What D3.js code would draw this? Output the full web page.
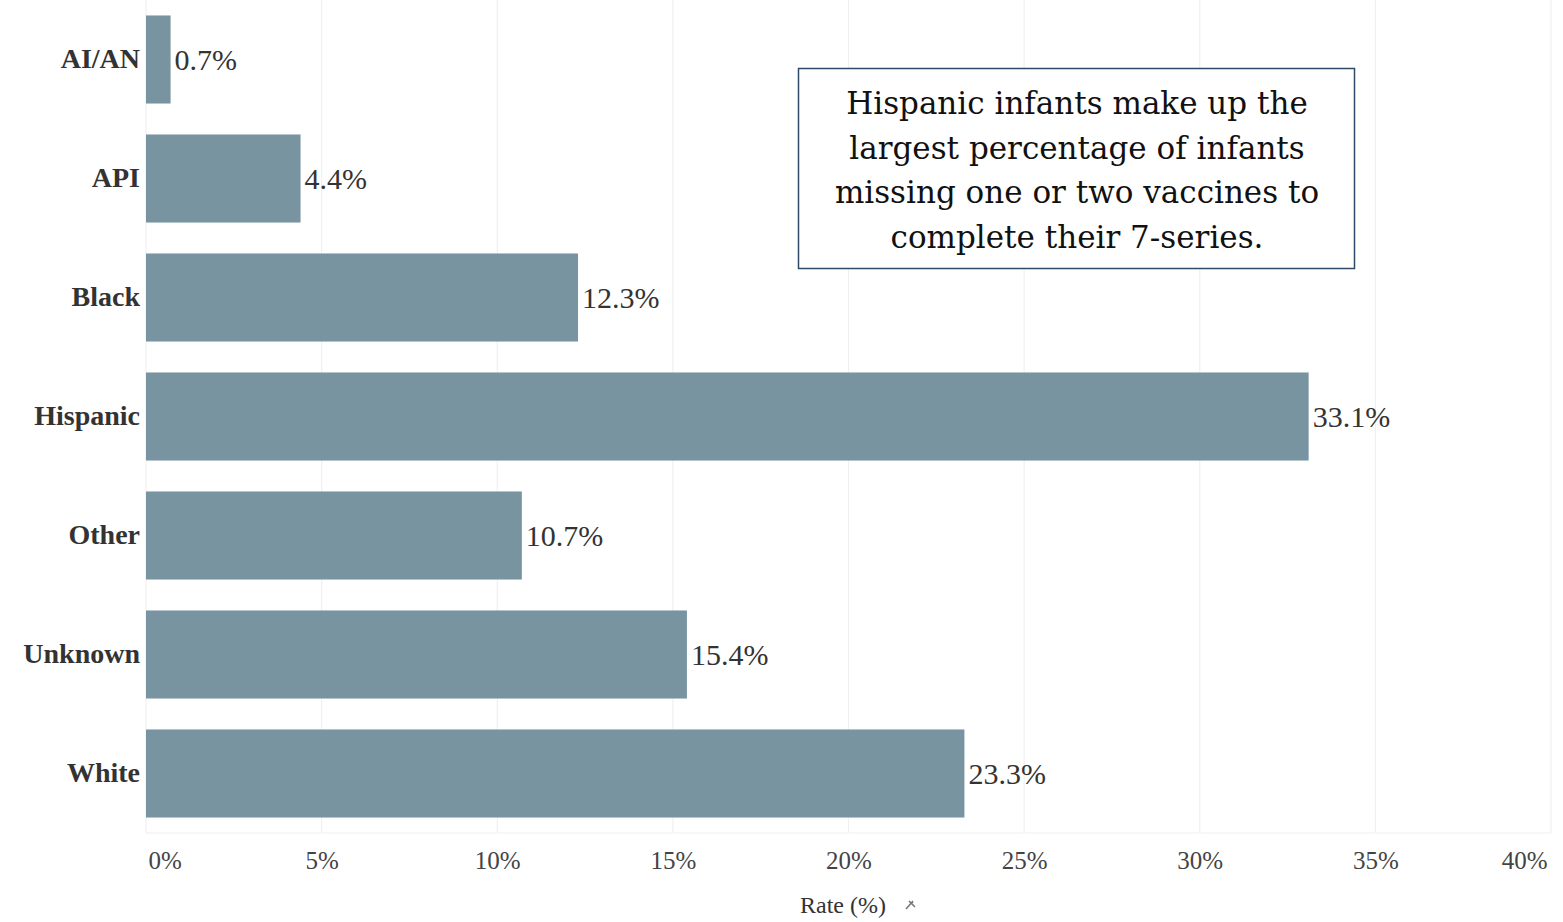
<!DOCTYPE html>
<html>
<head>
<meta charset="utf-8">
<script src="https://cdn.jsdelivr.net/npm/d3@7"></script>
<style>
  html, body { margin: 0; padding: 0; background: #fff; }
  svg { display: block; }
</style>
</head>
<body>
<svg id="chart" width="1563" height="922"></svg>
<script>
const categories = ["AI/AN", "API", "Black", "Hispanic", "Other", "Unknown", "White"];
const values = [0.7, 4.4, 12.3, 33.1, 10.7, 15.4, 23.3];
const tickValues = [0, 5, 10, 15, 20, 25, 30, 35, 40];
const tickLabels = ["0%", "5%", "10%", "15%", "20%", "25%", "30%", "35%", "40%"];
const axisTitle = "Rate (%)";
const annotationLines = [
  "Hispanic infants make up the",
  "largest percentage of infants",
  "missing one or two vaccines to",
  "complete their 7-series."
];

const svg = d3.select("#chart");
const serif = "'Liberation Serif', 'DejaVu Serif', serif";

const x = d3.scaleLinear().domain([0, 40]).range([146, 1551]);
const y = d3.scaleBand().domain(categories).range([0, 833]).paddingInner(0.26).paddingOuter(0.13);

// gridlines
svg.append("g").selectAll("line").data(tickValues).join("line")
  .attr("x1", d => x(d)).attr("x2", d => x(d))
  .attr("y1", 0).attr("y2", 833)
  .attr("stroke", "#f0f0f0").attr("stroke-width", 1.2);
svg.append("line").attr("x1", x(0)).attr("x2", x(40)).attr("y1", 833).attr("y2", 833)
  .attr("stroke", "#f0f0f0").attr("stroke-width", 1.2);

// bars
svg.append("g").selectAll("rect").data(categories).join("rect")
  .attr("x", x(0))
  .attr("y", d => y(d))
  .attr("width", (d, i) => x(values[i]) - x(0))
  .attr("height", y.bandwidth())
  .attr("fill", "#7794a0");

// value labels
svg.append("g").selectAll("text").data(categories).join("text")
  .attr("x", (d, i) => x(values[i]) + 4)
  .attr("y", d => y(d) + y.bandwidth() / 2)
  .attr("dy", "0.35em")
  .attr("font-family", serif).attr("font-size", 30)
  .attr("fill", "#333")
  .text((d, i) => values[i].toFixed(1) + "%");

// category axis
const yAxis = d3.axisLeft(y).tickSize(0).tickPadding(6);
const gy = svg.append("g").attr("transform", `translate(${x(0)},0)`).call(yAxis);
gy.select(".domain").remove();
gy.selectAll("text").attr("font-family", serif).attr("font-size", 28)
  .attr("fill", "#333").attr("font-weight", "bold").attr("dx", 0);

// x axis
const xAxis = d3.axisBottom(x).tickValues(tickValues).tickSize(0).tickPadding(0)
  .tickFormat((d, i) => tickLabels[i]);
const gx = svg.append("g").attr("transform", `translate(0,860)`).call(xAxis);
gx.select(".domain").remove();
gx.selectAll("text").attr("font-family", serif).attr("font-size", 25)
  .attr("fill", "#444").attr("dy", "0.35em")
  .attr("text-anchor", (d, i) => i === 0 ? "start" : (i === tickValues.length - 1 ? "end" : "middle"))
  .attr("dx", (d, i) => i === 0 ? 2 : (i === tickValues.length - 1 ? -4 : 0));

// axis title
svg.append("text").attr("x", 843).attr("y", 905).attr("dy", "0.35em")
  .attr("text-anchor", "middle").attr("font-family", serif).attr("font-size", 24)
  .attr("fill", "#333").text(axisTitle);
svg.append("path").attr("d", "M906,909 L913,901 M909,901 L915,907 M911,904 L913,902")
  .attr("stroke", "#777").attr("stroke-width", 1.5).attr("fill", "none");

// annotation box
svg.append("rect").attr("x", 798.5).attr("y", 68.5).attr("width", 556).attr("height", 200)
  .attr("fill", "#fff").attr("stroke", "#2f4a68").attr("stroke-width", 1.5);
svg.append("g").selectAll("text").data(annotationLines).join("text")
  .attr("x", 1077).attr("y", (d, i) => 103 + i * 44.7)
  .attr("dy", "0.35em").attr("text-anchor", "middle")
  .attr("font-family", "'DejaVu Serif', serif").attr("font-size", 31)
  .attr("fill", "#111").text(d => d);
</script>
</body>
</html>
